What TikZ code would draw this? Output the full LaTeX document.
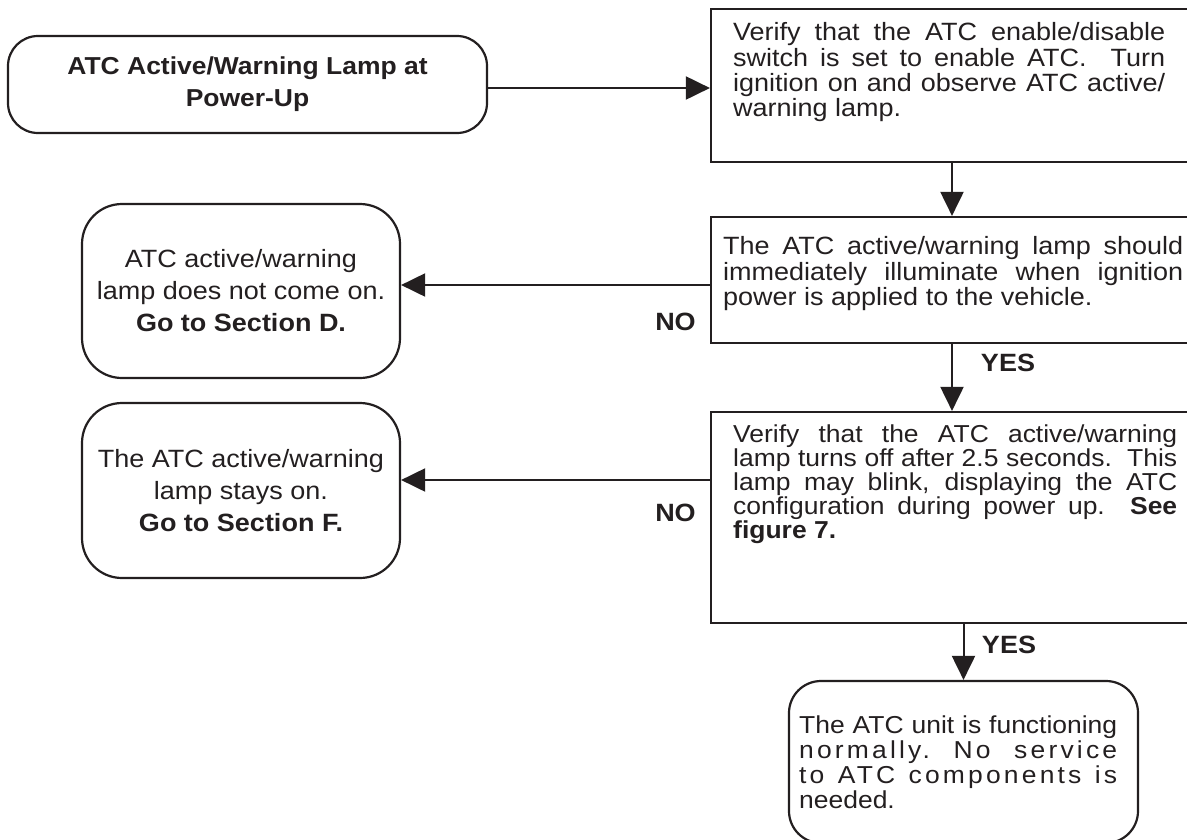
\documentclass[tikz,border=0pt]{standalone}
\usepackage{fontspec}
\setmainfont[FakeStretch=1.08]{Liberation Sans}
\usetikzlibrary{arrows.meta,positioning,calc}
\definecolor{ink}{RGB}{35,31,32}
\tolerance=10000
\hbadness=10000
\hyphenpenalty=10000

\begin{document}
\begin{tikzpicture}[x=1pt,y=-1pt,color=ink,
 term/.style={draw,line width=2.2pt,rounded corners=40pt,inner sep=0pt,align=center,font=\fontsize{25}{32}\selectfont},
 check/.style={draw,line width=2.2pt,inner sep=0pt,minimum width=482pt},
 body/.style={anchor=north west,inner sep=0pt,align=justify,font=\fontsize{25}{25.3}\selectfont},
 answer/.style={font=\bfseries\fontsize{25}{25}\selectfont},
 flow/.style={-{Triangle[length=24pt,width=23pt]},line width=2pt}
]
\useasboundingbox (0,0) rectangle (1187,839);
\node[term,rounded corners=30pt,minimum width=479pt,minimum height=97pt,font=\bfseries\fontsize{24.5}{32}\selectfont] (power) at (247.5,84.5) {ATC Active/Warning Lamp at\\Power-Up};
\node[check,minimum height=153pt] (chk) at (952,85.5) {};
\node[check,minimum height=126pt] (lampchk) at (952,280) {};
\node[check,minimum height=211pt] (offchk) at (952,517.5) {};
\node[term,minimum width=318pt,minimum height=174pt] (nolamp) at (241,291) {ATC active/warning\\lamp does not come on.\\\textbf{Go to Section D.}};
\node[term,minimum width=318pt,minimum height=175pt] (lampon) at (241,490.5) {The ATC active/warning\\lamp stays on.\\\textbf{Go to Section F.}};
\node[term,rounded corners=32pt,minimum width=349pt,minimum height=162pt] (okunit) at (963.5,762) {};

\node[body,text width=432pt] (chktxt) at (733,22.5) {Verify that the ATC enable/disable\linebreak switch is set to enable ATC.\ \ Turn\linebreak ignition on and observe ATC active/\linebreak warning lamp.};
\node[body,text width=460pt] (lampchktxt) at (723,236.5) {The ATC active/warning lamp should\linebreak immediately illuminate when ignition\linebreak power is applied to the vehicle.};
\node[body,text width=444pt,font=\fontsize{24.5}{24}\selectfont] (offchktxt) at (733,424.5) {Verify that the ATC active/warning\linebreak lamp turns off after 2.5 seconds.\ \ This\linebreak lamp may blink, displaying the ATC\linebreak configuration during power up.\ \ \textbf{See}\linebreak \textbf{figure 7.}};
\node[body,text width=318pt,font=\fontsize{24.5}{25}\selectfont] (okunittxt) at (799,715.5) {The ATC unit is functioning\linebreak {\addfontfeature{LetterSpace=13}normally.\ No service\linebreak to ATC components is}\linebreak needed.};

\node[answer] (no1) at (675.5,322) {NO};
\node[answer] (no2) at (675.5,513) {NO};
\node[answer] (yes1) at (1008,363) {YES};
\node[answer] (yes2) at (1009,645) {YES};

\draw[flow] ([yshift=-3.5pt]power.east) -- ([yshift=-3.5pt]power.east -| chk.west);
\draw[flow] (chk.south) -- (lampchk.north);
\draw[flow] (lampchk.south) -- (offchk.north);
\draw[flow] ([yshift=-5pt]lampchk.west) -- ([yshift=-5pt]lampchk.west -| nolamp.east);
\draw[flow] ([yshift=37.5pt]offchk.west) -- ([yshift=37.5pt]offchk.west -| lampon.east);
\draw[flow] (offchk.south -| okunit.north) -- (okunit.north);
\end{tikzpicture}
\end{document}
